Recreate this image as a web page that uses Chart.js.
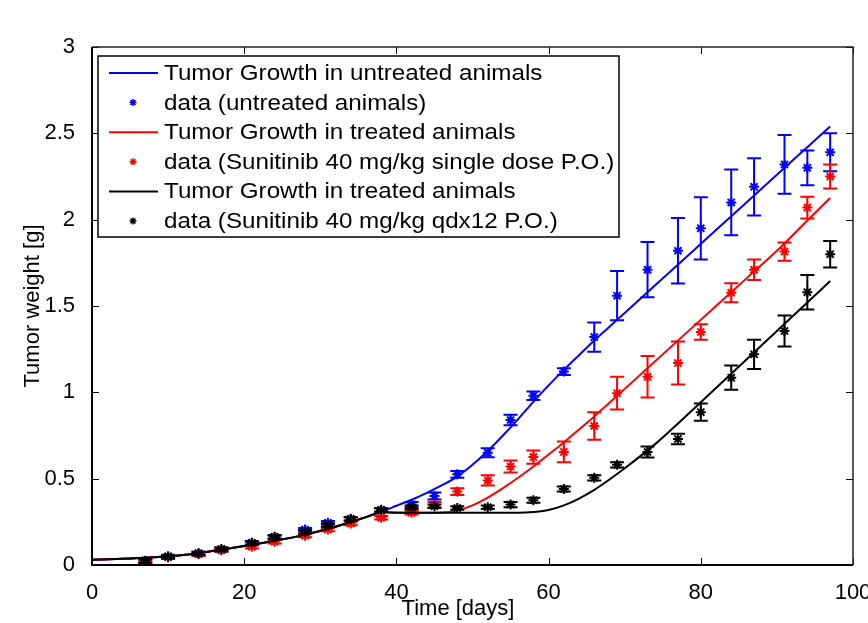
<!DOCTYPE html>
<html lang="en">
<head>
  <meta charset="UTF-8">
  <title>Tumor Growth</title>
  <script src="https://cdn.jsdelivr.net/npm/chart.js"></script>
  <style>
body {
  margin: 0;
  background-color: #fff;
  overflow: hidden;
}
#wrap {
  width: 868px;
  height: 623px;
}
  </style>
</head>
<body>
  <div id="wrap">
    <canvas id="growthChart" width="868" height="623"></canvas>
  </div>
  <script>
    // measured days and mean tumour weight (g) with error bar half-heights
    var dataDays = [7, 10, 14, 17, 21, 24, 28, 31, 34, 38, 42, 45, 48, 52, 55, 58, 62, 66, 69, 73, 77, 80, 84, 87, 91, 94, 97];
    var untreatedMean = [0.025, 0.05, 0.068, 0.085, 0.125, 0.16, 0.205, 0.245, 0.268, 0.32, 0.35, 0.40, 0.525, 0.65, 0.84, 0.98, 1.12, 1.32, 1.56, 1.71, 1.82, 1.95, 2.10, 2.19, 2.32, 2.30, 2.39];
    var untreatedErr = [0.01, 0.01, 0.01, 0.01, 0.01, 0.01, 0.01, 0.01, 0.01, 0.01, 0.015, 0.02, 0.02, 0.026, 0.03, 0.025, 0.02, 0.085, 0.143, 0.16, 0.19, 0.18, 0.19, 0.166, 0.17, 0.10, 0.11];
    var singleMean = [0.018, 0.045, 0.062, 0.088, 0.105, 0.135, 0.17, 0.205, 0.24, 0.274, 0.303, 0.35, 0.425, 0.49, 0.57, 0.625, 0.655, 0.805, 0.995, 1.09, 1.17, 1.35, 1.577, 1.71, 1.815, 2.07, 2.25];
    var singleErr = [0.01, 0.01, 0.01, 0.01, 0.01, 0.01, 0.01, 0.01, 0.01, 0.01, 0.01, 0.015, 0.02, 0.03, 0.035, 0.038, 0.06, 0.08, 0.095, 0.12, 0.124, 0.045, 0.055, 0.06, 0.053, 0.063, 0.07];
    var dailyMean = [0.023, 0.048, 0.066, 0.093, 0.129, 0.164, 0.193, 0.232, 0.266, 0.318, 0.335, 0.34, 0.33, 0.335, 0.35, 0.375, 0.44, 0.505, 0.58, 0.655, 0.73, 0.885, 1.085, 1.22, 1.355, 1.58, 1.80];
    var dailyErr = [0.01, 0.01, 0.01, 0.01, 0.01, 0.01, 0.01, 0.01, 0.01, 0.01, 0.01, 0.01, 0.01, 0.01, 0.015, 0.015, 0.015, 0.015, 0.015, 0.032, 0.03, 0.05, 0.07, 0.085, 0.09, 0.10, 0.077];

    // model curves
    var fitDays = [0, 4, 8, 12, 16, 20, 24, 28, 32, 36, 38, 40, 42, 44, 46, 48, 50, 52, 54, 56, 58, 60, 62, 64, 66, 68, 70, 74, 78, 82, 86, 90, 94, 97];
    var untreatedFit = [0.03, 0.036, 0.045, 0.058, 0.082, 0.11, 0.14, 0.176, 0.222, 0.277, 0.308, 0.343, 0.378, 0.418, 0.462, 0.512, 0.58, 0.66, 0.75, 0.845, 0.945, 1.04, 1.13, 1.215, 1.30, 1.38, 1.46, 1.62, 1.78, 1.94, 2.10, 2.26, 2.42, 2.54];
    var singleFit = [0.03, 0.036, 0.045, 0.058, 0.082, 0.11, 0.14, 0.176, 0.222, 0.277, 0.306, 0.304, 0.303, 0.303, 0.304, 0.315, 0.345, 0.39, 0.445, 0.505, 0.57, 0.64, 0.71, 0.785, 0.86, 0.94, 1.02, 1.18, 1.34, 1.50, 1.66, 1.82, 1.995, 2.125];
    var dailyFit = [0.03, 0.036, 0.045, 0.058, 0.082, 0.11, 0.14, 0.176, 0.222, 0.277, 0.306, 0.303, 0.303, 0.303, 0.303, 0.303, 0.303, 0.303, 0.303, 0.303, 0.307, 0.318, 0.345, 0.385, 0.435, 0.495, 0.56, 0.70, 0.86, 1.025, 1.19, 1.355, 1.52, 1.645];

    var xTicks = [0, 20, 40, 60, 80, 100];
    var yTicks = [0, 0.5, 1, 1.5, 2, 2.5, 3];

    var fontFamily = '"Liberation Sans", Arial, Helvetica, sans-serif';
    Chart.defaults.font.family = fontFamily;
    Chart.defaults.color = '#000';

    function fitSet(label, values, color, order) {
      return {
        type: 'line',
        label: label,
        data: fitDays.map(function(d, i) { return {x: d, y: values[i]}; }),
        borderColor: color,
        borderWidth: 2,
        pointRadius: 0,
        fill: false,
        cubicInterpolationMode: 'monotone',
        order: order
      };
    }

    function pointSet(label, values, errs, color, order) {
      return {
        type: 'scatter',
        label: label,
        data: dataDays.map(function(d, i) { return {x: d, y: values[i]}; }),
        errors: errs,
        showLine: false,
        pointStyle: 'star',
        pointRadius: 5,
        borderWidth: 2,
        borderColor: color,
        backgroundColor: color,
        order: order
      };
    }

    // error bars, frame with inward ticks, legend box
    var matlabLook = {
      id: 'matlabLook',
      afterDatasetDraw: function(chart, args) {
        var ds = chart.data.datasets[args.index];
        if (!ds.errors) return;
        var ctx = chart.ctx, x = chart.scales.x, y = chart.scales.y;
        ctx.save();
        ctx.strokeStyle = ds.borderColor;
        ctx.lineWidth = 2;
        ds.data.forEach(function(p, i) {
          var px = x.getPixelForValue(p.x);
          var top = y.getPixelForValue(p.y + ds.errors[i]);
          var bot = y.getPixelForValue(p.y - ds.errors[i]);
          ctx.beginPath();
          ctx.moveTo(px, top); ctx.lineTo(px, bot);
          ctx.moveTo(px - 7, top); ctx.lineTo(px + 7, top);
          ctx.moveTo(px - 7, bot); ctx.lineTo(px + 7, bot);
          ctx.stroke();
        });
        ctx.restore();
      },
      afterDatasetsDraw: function(chart) {
        var ctx = chart.ctx, a = chart.chartArea;
        var x = chart.scales.x, y = chart.scales.y;
        ctx.save();
        // inward ticks on all four sides
        ctx.strokeStyle = '#000';
        ctx.lineWidth = 1;
        ctx.beginPath();
        xTicks.forEach(function(t) {
          var px = Math.round(x.getPixelForValue(t)) + 0.5;
          ctx.moveTo(px, a.bottom); ctx.lineTo(px, a.bottom - 7);
          ctx.moveTo(px, a.top); ctx.lineTo(px, a.top + 7);
        });
        yTicks.forEach(function(t) {
          var py = Math.round(y.getPixelForValue(t)) + 0.5;
          ctx.moveTo(a.left, py); ctx.lineTo(a.left + 7, py);
          ctx.moveTo(a.right, py); ctx.lineTo(a.right - 7, py);
        });
        ctx.stroke();
        // frame
        ctx.lineWidth = 1.5;
        ctx.strokeStyle = '#222';
        ctx.beginPath();
        ctx.moveTo(a.left, a.top); ctx.lineTo(a.right, a.top); ctx.lineTo(a.right, a.bottom);
        ctx.stroke();
        ctx.lineWidth = 2;
        ctx.strokeStyle = '#000';
        ctx.beginPath();
        ctx.moveTo(a.left, a.top); ctx.lineTo(a.left, a.bottom); ctx.lineTo(a.right, a.bottom);
        ctx.stroke();

        // legend
        var lx = a.left + 6, ly = a.top + 9, lw = 521, lh = 181, rowH = 29.6;
        ctx.fillStyle = '#fff';
        ctx.fillRect(lx, ly, lw, lh);
        ctx.lineWidth = 1.5;
        ctx.strokeStyle = '#000';
        ctx.strokeRect(lx, ly, lw, lh);
        ctx.font = '22px ' + fontFamily;
        ctx.textBaseline = 'middle';
        ctx.textAlign = 'left';
        chart.data.datasets.forEach(function(ds, i) {
          var cy = ly + 17 + i * rowH;
          ctx.strokeStyle = ds.borderColor;
          if (ds.type === 'line') {
            ctx.lineWidth = 2;
            ctx.beginPath();
            ctx.moveTo(lx + 11, cy); ctx.lineTo(lx + 60, cy);
            ctx.stroke();
          } else {
            ctx.lineWidth = 1.5;
            Chart.helpers.drawPoint(ctx, {pointStyle: 'star', radius: 3.5, borderWidth: 1.5, rotation: 0}, lx + 35, cy);
          }
          ctx.save();
          ctx.translate(lx + 66, cy + 1);
          ctx.scale(1.1, 1);
          ctx.fillStyle = '#000';
          ctx.fillText(ds.label, 0, 0);
          ctx.restore();
        });

        // x axis title
        ctx.font = '22px ' + fontFamily;
        ctx.textAlign = 'center';
        ctx.fillStyle = '#000';
        ctx.fillText('Time [days]', a.left + 366, 609);
        ctx.restore();
      }
    };

    var ctx = document.getElementById('growthChart').getContext('2d');
    var chart = new Chart(ctx, {
      type: 'scatter',
      data: {
        datasets: [
          fitSet('Tumor Growth in untreated animals', untreatedFit, '#0000ff', 6),
          pointSet('data (untreated animals)', untreatedMean, untreatedErr, '#0000ff', 5),
          fitSet('Tumor Growth in treated animals', singleFit, '#ff0000', 4),
          pointSet('data (Sunitinib 40 mg/kg single dose P.O.)', singleMean, singleErr, '#ff0000', 3),
          fitSet('Tumor Growth in treated animals', dailyFit, '#000000', 2),
          pointSet('data (Sunitinib 40 mg/kg qdx12 P.O.)', dailyMean, dailyErr, '#000000', 1)
        ]
      },
      options: {
        responsive: false,
        animation: false,
        layout: {
          padding: {top: 47, right: 15, left: 0, bottom: 0}
        },
        plugins: {
          legend: {display: false},
          tooltip: {enabled: false}
        },
        scales: {
          x: {
            type: 'linear',
            position: 'bottom',
            min: 0,
            max: 100,
            afterBuildTicks: function(scale) {
              scale.ticks = xTicks.map(function(v) { return {value: v}; });
            },
            ticks: {
              font: {size: 22},
              color: '#000',
              padding: 7,
              maxRotation: 0
            },
            grid: {display: false},
            border: {display: false},
            afterFit: function(scale) {
              scale.height = 58;
              scale.paddingLeft = 0;
              scale.paddingRight = 0;
            }
          },
          y: {
            type: 'linear',
            position: 'left',
            min: 0,
            max: 3,
            afterBuildTicks: function(scale) {
              scale.ticks = yTicks.map(function(v) { return {value: v}; });
            },
            ticks: {
              font: {size: 22},
              color: '#000',
              padding: 9,
              callback: function(v) { return String(v); }
            },
            grid: {display: false},
            border: {display: false},
            title: {
              display: true,
              text: 'Tumor weight [g]',
              font: {size: 22},
              color: '#000',
              padding: {top: 20, bottom: 0}
            },
            afterFit: function(scale) {
              scale.width = 92;
            }
          }
        }
      },
      plugins: [matlabLook]
    });
  </script>
</body>
</html>
